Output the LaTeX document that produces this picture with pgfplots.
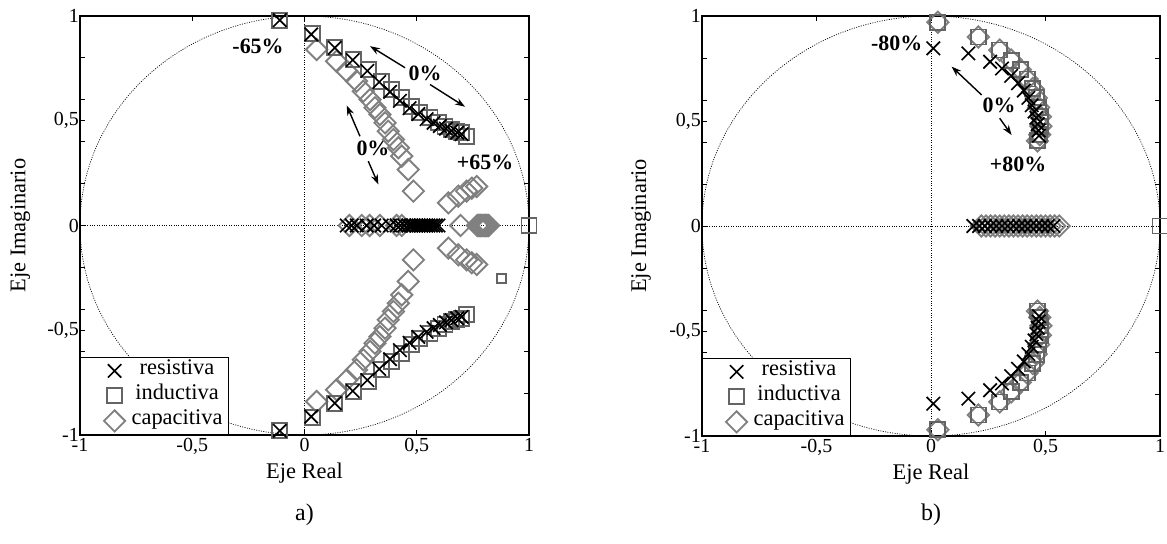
\documentclass[border=0pt]{standalone}
\usepackage{fontspec}
\setmainfont{Liberation Serif}
\usepackage{pgfplots}
\pgfplotsset{compat=1.18}
\usetikzlibrary{arrows.meta}

\definecolor{indgray}{RGB}{100,100,100}
\definecolor{capgray}{RGB}{128,128,128}

\newcommand{\leyenda}[1]{{\fontsize{22.5}{24}\selectfont #1}}

\tikzset{
  guia/.style={black, line width=0.7bp, dash pattern=on 1bp off 1.4bp},
  flecha/.style={-{Stealth[length=10bp, width=7bp]}, line width=1.4bp, black},
  nota/.style={font=\fontsize{22}{24}\selectfont\bfseries},
}

\pgfplotsset{
  polos/.style={
    anchor=south west,
    scale only axis,
    xmin=-1, xmax=1, ymin=-1, ymax=1,
    clip=false,
    xtick={-1,-0.5,0,0.5,1},
    xticklabels={-1,{-0,5},0,{0,5},1},
    ytick={-1,-0.5,0,0.5,1},
    yticklabels={-1,{-0,5},0,{0,5},1},
    ytick pos=left,
    tick align=inside,
    major tick length=5bp,
    every tick/.style={black, line width=0.8bp},
    axis line style={line width=1.3bp},
    ticklabel style={font=\fontsize{20}{22}\selectfont},
    yticklabel style={inner xsep=1bp},
    xlabel={Eje Real},
    ylabel={Eje Imaginario},
    label style={font=\fontsize{22.5}{24}\selectfont},
    xlabel style={at={(axis description cs:0.5,-0.09)}, anchor=center},
    ylabel style={at={(axis description cs:-0.133,0.5)}, anchor=center},
    legend style={at={(0,0)}, anchor=south west, draw=black, line width=1.2bp,
      inner xsep=1bp, inner ysep=1bp, row sep=0bp,
      font=\fontsize{22.5}{24}\selectfont,
      nodes={inner xsep=5bp, inner ysep=1.5bp, text height=15bp, text depth=7bp}},
    legend cell align=center,
    legend image code/.code={%
      \path[draw=none] (0bp,0bp) -- (45bp,0bp);
      \draw[#1] plot coordinates {(33bp,0bp)};},
  },
  resistiva/.style={only marks, mark=x, mark size=9.5bp, line width=1.7bp, black},
  inductiva/.style={only marks, mark=square, mark size=7.5bp, line width=1.9bp, indgray},
  capacitiva/.style={only marks, mark=square, mark size=7.5bp, line width=1.9bp,
    capgray, mark options={rotate=45}},
}

% minor ticks every 0.2 on both vertical sides
\newcommand{\ticksmenores}[3]{%
  \begin{axis}[at={(#1)}, anchor=south west, scale only axis, width=#2, height=#3,
    xmin=-1, xmax=1, ymin=-1, ymax=1,
    xtick=\empty, ytick pos=both,
    ytick={-0.8,-0.6,-0.4,-0.2,0.2,0.4,0.6,0.8}, yticklabels={},
    tick align=inside, major tick length=5bp,
    every tick/.style={black, line width=0.8bp},
    axis line style={line width=1.3bp}]
  \end{axis}}

\begin{document}
\begin{tikzpicture}
\useasboundingbox (0,0) rectangle (1167bp,544bp);

% ---------------- a) variacion +-65% ----------------
\ticksmenores{80bp,109bp}{449bp}{419bp}
\begin{axis}[polos, at={(80bp,109bp)}, width=449bp, height=419bp]
  \draw[guia] (axis cs:-1,0) -- (axis cs:1,0);
  \draw[guia] (axis cs:0,-1) -- (axis cs:0,1);
  \draw[guia] (axis cs:0,0) ellipse [x radius=1, y radius=1];

  \addlegendimage{resistiva}
  \addlegendimage{inductiva}
  \addlegendimage{capacitiva}
  \legend{\leyenda{resistiva}, \leyenda{inductiva}, \leyenda{capacitiva}}

  % capacitiva
  \addplot[capacitiva, forget plot] coordinates {
    (0.054,0.84) (0.143,0.784) (0.188,0.737) (0.232,0.689) (0.262,0.641)
    (0.292,0.601) (0.314,0.562) (0.336,0.53) (0.359,0.49) (0.373,0.45)
    (0.396,0.41) (0.418,0.371) (0.433,0.331) (0.462,0.267) (0.485,0.164)
    (0.641,0.108) (0.685,0.14) (0.722,0.164) (0.745,0.178) (0.767,0.186)
    (0.054,-0.84) (0.143,-0.784) (0.188,-0.737) (0.232,-0.689) (0.262,-0.641)
    (0.292,-0.601) (0.314,-0.562) (0.336,-0.53) (0.359,-0.49) (0.373,-0.45)
    (0.396,-0.41) (0.418,-0.371) (0.433,-0.331) (0.462,-0.267) (0.485,-0.164)
    (0.641,-0.108) (0.685,-0.14) (0.722,-0.164) (0.745,-0.178) (0.767,-0.186)
    (0.2,0) (0.255,0) (0.29,0) (0.336,0) (0.41,0) (0.433,0) (0.695,0)
    (0.77,0) (0.775,0) (0.78,0) (0.785,0) (0.79,0) (0.795,0) (0.80,0)
    (0.805,0) (0.81,0) (0.815,0) (0.82,0)
  };
  % densely packed poles near +0.8 look solid
  \addplot[capacitiva, mark options={rotate=45, fill=capgray}, forget plot] coordinates {
    (0.785,0) (0.795,0) (0.805,0)
  };
  % inductiva
  \addplot[inductiva, forget plot] coordinates {
    (-0.11,0.98) (0.035,0.915) (0.135,0.85) (0.217,0.792) (0.284,0.745)
    (0.344,0.689) (0.388,0.649) (0.433,0.609) (0.477,0.569) (0.514,0.538)
    (0.559,0.514) (0.596,0.49) (0.626,0.474) (0.656,0.458) (0.678,0.45)
    (0.70,0.442) (0.722,0.426)
    (-0.11,-0.98) (0.035,-0.915) (0.135,-0.85) (0.217,-0.792) (0.284,-0.745)
    (0.344,-0.689) (0.388,-0.649) (0.433,-0.609) (0.477,-0.569) (0.514,-0.538)
    (0.559,-0.514) (0.596,-0.49) (0.626,-0.474) (0.656,-0.458) (0.678,-0.45)
    (0.70,-0.442) (0.722,-0.426)
    (1,0)
  };
  \addplot[inductiva, mark size=4.5bp, line width=1.6bp, forget plot] coordinates {(0.878,-0.254)};
  % resistiva
  \addplot[resistiva, forget plot] coordinates {
    (-0.11,0.98) (0.03,0.912) (0.135,0.848) (0.215,0.79) (0.28,0.738)
    (0.333,0.685) (0.381,0.638) (0.425,0.595) (0.468,0.56) (0.507,0.532)
    (0.544,0.508) (0.575,0.49) (0.603,0.475) (0.63,0.462) (0.655,0.452)
    (0.68,0.443) (0.70,0.436)
    (-0.11,-0.98) (0.03,-0.912) (0.135,-0.848) (0.215,-0.79) (0.28,-0.738)
    (0.333,-0.685) (0.381,-0.638) (0.425,-0.595) (0.468,-0.56) (0.507,-0.532)
    (0.544,-0.508) (0.575,-0.49) (0.603,-0.475) (0.63,-0.462) (0.655,-0.452)
    (0.68,-0.443) (0.70,-0.436)
    (0.188,0) (0.21,0) (0.233,0) (0.277,0) (0.31,0) (0.344,0) (0.381,0)
    (0.41,0) (0.426,0) (0.445,0) (0.463,0) (0.475,0) (0.485,0) (0.497,0)
    (0.508,0) (0.52,0) (0.53,0) (0.541,0) (0.552,0) (0.563,0) (0.574,0)
    (0.585,0) (0.597,0)
  };

  \node[nota] at (axis cs:-0.207,0.854) {-65\%};
  \node[nota] at (axis cs:0.537,0.725) {0\%};
  \node[nota] at (axis cs:0.305,0.37) {0\%};
  \node[nota] at (axis cs:0.804,0.303) {+65\%};
  \draw[flecha] (axis cs:0.448,0.753) -- (axis cs:0.292,0.856);
  \draw[flecha] (axis cs:0.559,0.673) -- (axis cs:0.715,0.567);
  \draw[flecha] (axis cs:0.247,0.426) -- (axis cs:0.188,0.573);
  \draw[flecha] (axis cs:0.284,0.307) -- (axis cs:0.329,0.196);
\end{axis}

% ---------------- b) variacion +-80% ----------------
\ticksmenores{702bp,108bp}{458bp}{420bp}
\begin{axis}[polos, at={(702bp,108bp)}, width=458bp, height=420bp]
  \draw[guia] (axis cs:-1,0) -- (axis cs:1,0);
  \draw[guia] (axis cs:0,-1) -- (axis cs:0,1);
  \draw[guia] (axis cs:0,0) ellipse [x radius=1, y radius=1];

  \addlegendimage{resistiva}
  \addlegendimage{inductiva}
  \addlegendimage{capacitiva}
  \legend{\leyenda{resistiva}, \leyenda{inductiva}, \leyenda{capacitiva}}

  % capacitiva
  \addplot[capacitiva, forget plot] coordinates {
    (0.03,0.97) (0.207,0.90) (0.30,0.838) (0.35,0.79) (0.39,0.745)
    (0.42,0.70) (0.445,0.655) (0.46,0.61) (0.47,0.565) (0.478,0.52)
    (0.48,0.475) (0.475,0.435) (0.465,0.405)
    (0.03,-0.97) (0.207,-0.90) (0.30,-0.838) (0.35,-0.79) (0.39,-0.745)
    (0.42,-0.70) (0.445,-0.655) (0.46,-0.61) (0.47,-0.565) (0.478,-0.52)
    (0.48,-0.475) (0.475,-0.435) (0.465,-0.405)
    (0.22,0) (0.24,0) (0.26,0) (0.28,0) (0.30,0) (0.32,0) (0.34,0) (0.36,0)
    (0.38,0) (0.40,0) (0.42,0) (0.44,0) (0.46,0) (0.48,0) (0.50,0) (0.52,0)
    (0.54,0) (0.56,0)
  };
  % inductiva
  \addplot[inductiva, forget plot] coordinates {
    (0.03,0.97) (0.207,0.90) (0.30,0.838) (0.35,0.79) (0.39,0.745)
    (0.42,0.70) (0.445,0.655) (0.46,0.61) (0.47,0.565) (0.478,0.52)
    (0.48,0.475) (0.475,0.435) (0.465,0.405)
    (0.03,-0.97) (0.207,-0.90) (0.30,-0.838) (0.35,-0.79) (0.39,-0.745)
    (0.42,-0.70) (0.445,-0.655) (0.46,-0.61) (0.47,-0.565) (0.478,-0.52)
    (0.48,-0.475) (0.475,-0.435) (0.465,-0.405)
    (1,0)
  };
  % resistiva
  \addplot[resistiva, forget plot] coordinates {
    (0.01,0.846) (0.163,0.822) (0.258,0.782) (0.31,0.75) (0.35,0.715)
    (0.38,0.68) (0.405,0.645) (0.425,0.61) (0.44,0.575) (0.452,0.545)
    (0.46,0.515) (0.466,0.485) (0.47,0.455) (0.472,0.43)
    (0.01,-0.846) (0.163,-0.822) (0.258,-0.782) (0.31,-0.75) (0.35,-0.715)
    (0.38,-0.68) (0.405,-0.645) (0.425,-0.61) (0.44,-0.575) (0.452,-0.545)
    (0.46,-0.515) (0.466,-0.485) (0.47,-0.455) (0.472,-0.43)
    (0.185,0) (0.21,0) (0.235,0) (0.26,0) (0.285,0) (0.31,0) (0.335,0)
    (0.36,0) (0.385,0) (0.41,0) (0.435,0) (0.46,0) (0.485,0) (0.51,0)
    (0.535,0)
  };

  \node[nota] at (axis cs:-0.15,0.87) {-80\%};
  \node[nota] at (axis cs:0.297,0.574) {0\%};
  \node[nota] at (axis cs:0.38,0.293) {+80\%};
  \draw[flecha] (axis cs:0.221,0.624) -- (axis cs:0.09,0.759);
  \draw[flecha] (axis cs:0.30,0.513) -- (axis cs:0.352,0.433);
\end{axis}

\node[font=\fontsize{24}{26}\selectfont] at (304.5bp,29bp) {a)};
\node[font=\fontsize{24}{26}\selectfont] at (931bp,29bp) {b)};
\end{tikzpicture}
\end{document}
